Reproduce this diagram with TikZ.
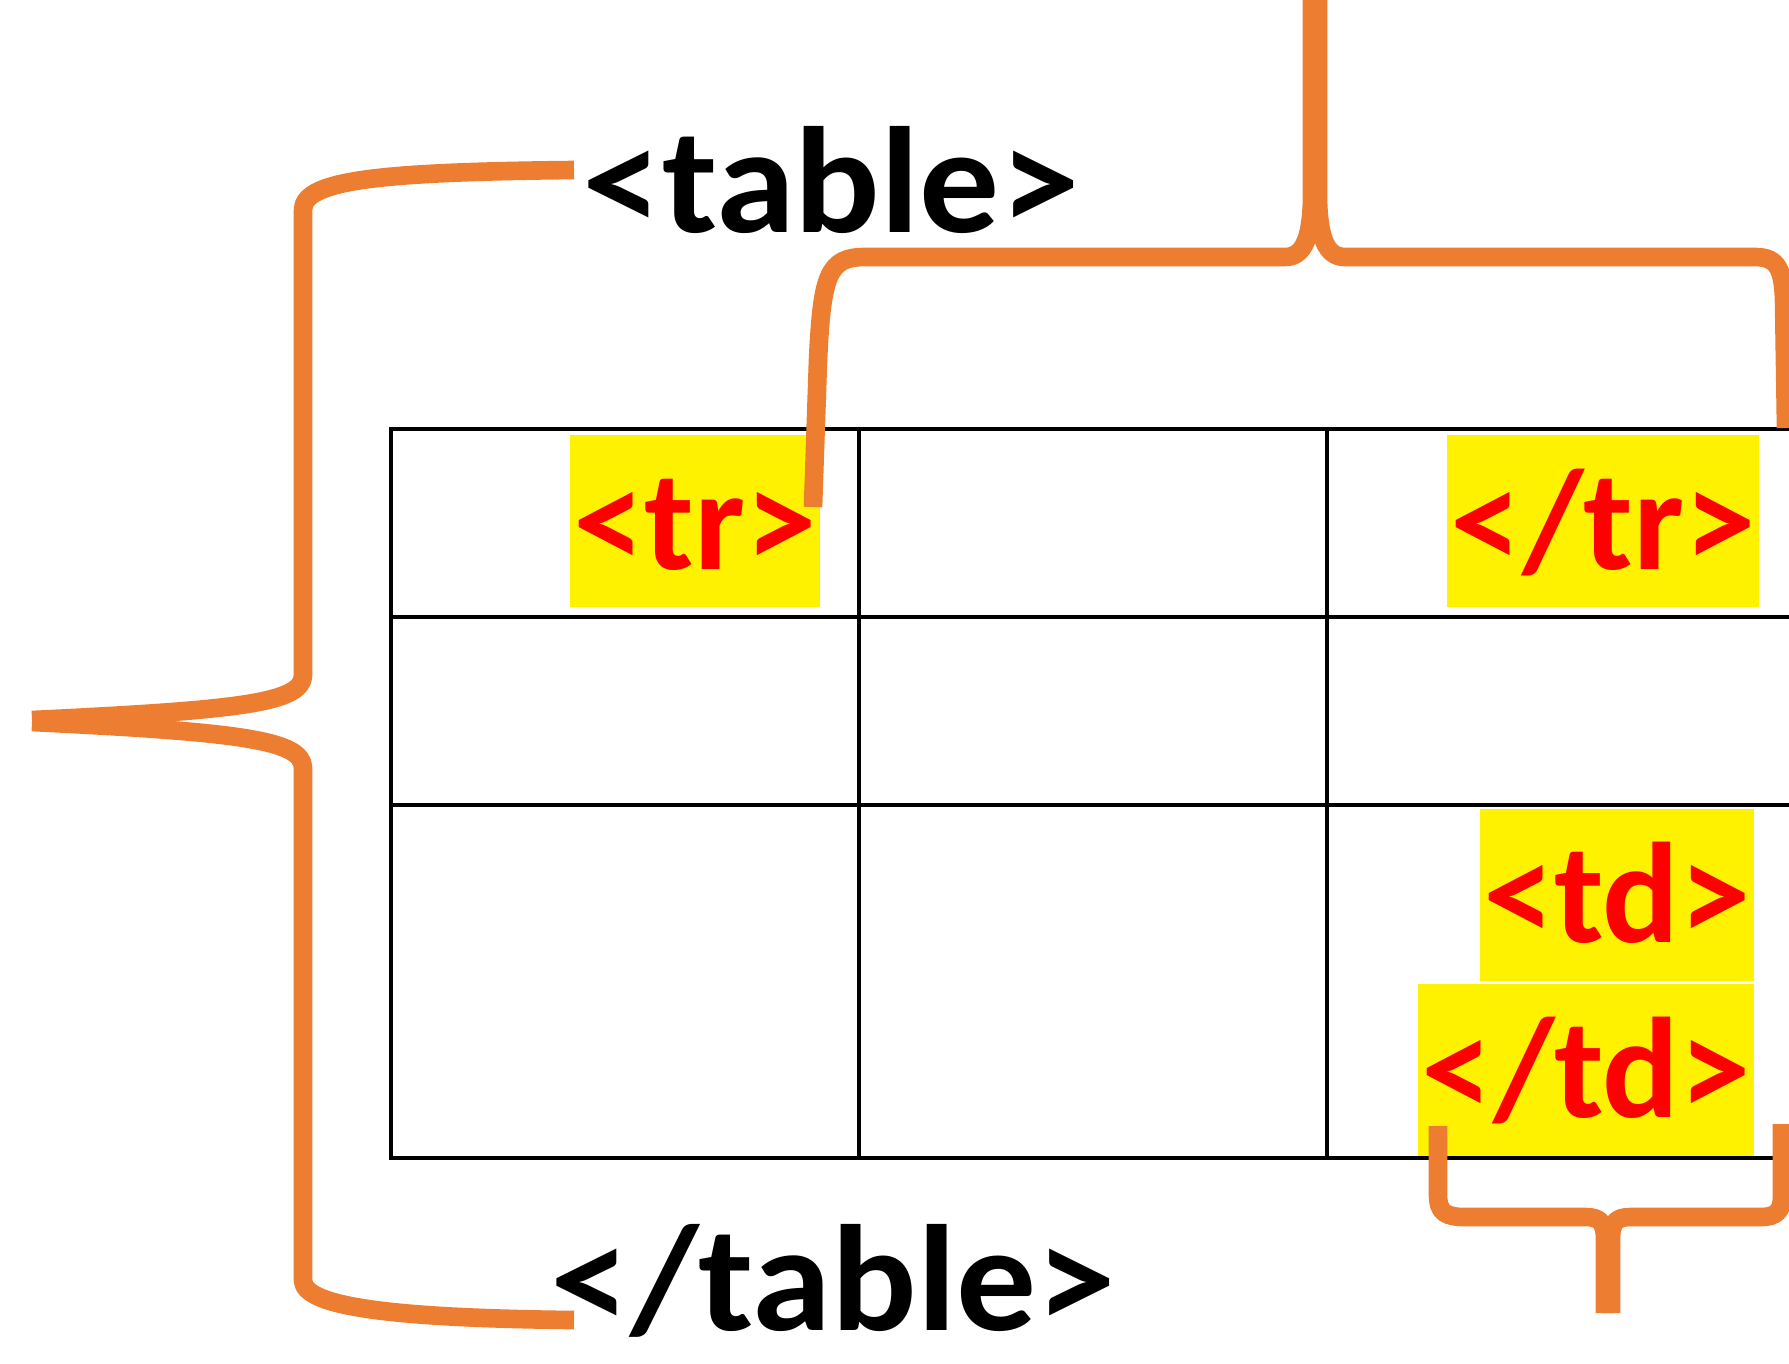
\documentclass[tikz,border=0pt]{standalone}
\usepackage{fontspec}
\setmainfont{Carlito}
\newfontfamily\tagfont{Carlito}[FakeStretch=1.055]
\usepackage{tikz}

\definecolor{braceorange}{HTML}{ED7D31}

\begin{document}
\begin{tikzpicture}[x=0.01cm, y=-0.01cm,
  tag/.style={font=\tagfont\fontsize{43}{50}\selectfont\bfseries, inner sep=0pt},
  cell/.style={fill=yellow, text=red, font=\fontsize{40.7}{48}\selectfont\bfseries,
    inner xsep=1pt, inner ysep=0pt, text height=1.34cm, text depth=0.38cm},
  brace/.style={draw=braceorange, line width=5.3pt, line join=round}]
\useasboundingbox (0,0) rectangle (1789,1363);

% the table
\draw[line width=1.1pt] (391,429) rectangle (1795,1158);
\draw[line width=1.1pt] (391,617) -- (1795,617);
\draw[line width=1.1pt] (391,805) -- (1795,805);
\draw[line width=1.1pt] (859,429) -- (859,1158);
\draw[line width=1.1pt] (1327,429) -- (1327,1158);

% tags
\node[tag, anchor=base west] (T) at (582,232) {<table>};
\node[tag, anchor=base west] (TE) at (550,1330) {</table>};
\node[cell] (TR) at (695,521) {<tr>};
\node[cell] (TRE) at (1603,521) {</tr>};
\node[cell, anchor=north east] (TD) at (1755,808) {<td>};
\node[cell, anchor=north east] (TDE) at (1755,983) {</td>};

% brace round the table
\draw[brace] (574,170) .. controls (380,172) and (303,180) .. (303,210) -- (303,675)
  .. controls (303,703) and (240,710) .. (32,720);
\draw[brace] (32,722) .. controls (240,732) and (303,740) .. (303,768) -- (303,1280)
  .. controls (303,1305) and (380,1318) .. (574,1320);

% brace over the row
\draw[brace] (813,507) -- (818,360) .. controls (822,275) and (828,257) .. (865,257)
  -- (1285,257) .. controls (1305,257) and (1311,235) .. (1312,200) -- (1312,0);
\draw[brace] (1318,0) -- (1318,200) .. controls (1319,235) and (1325,257) .. (1345,257)
  -- (1755,257) .. controls (1778,257) and (1783,270) .. (1784,300) -- (1786,428);

% brace under the cell
\draw[brace] (1438,1126) -- (1438,1195) .. controls (1438,1212) and (1445,1217) .. (1465,1217)
  -- (1585,1217) .. controls (1600,1217) and (1605,1222) .. (1605,1240) -- (1605,1313);
\draw[brace] (1611,1313) -- (1611,1240) .. controls (1611,1222) and (1616,1217) .. (1631,1217)
  -- (1760,1217) .. controls (1778,1217) and (1782,1210) .. (1782,1195) -- (1782,1124);
\end{tikzpicture}
\end{document}
